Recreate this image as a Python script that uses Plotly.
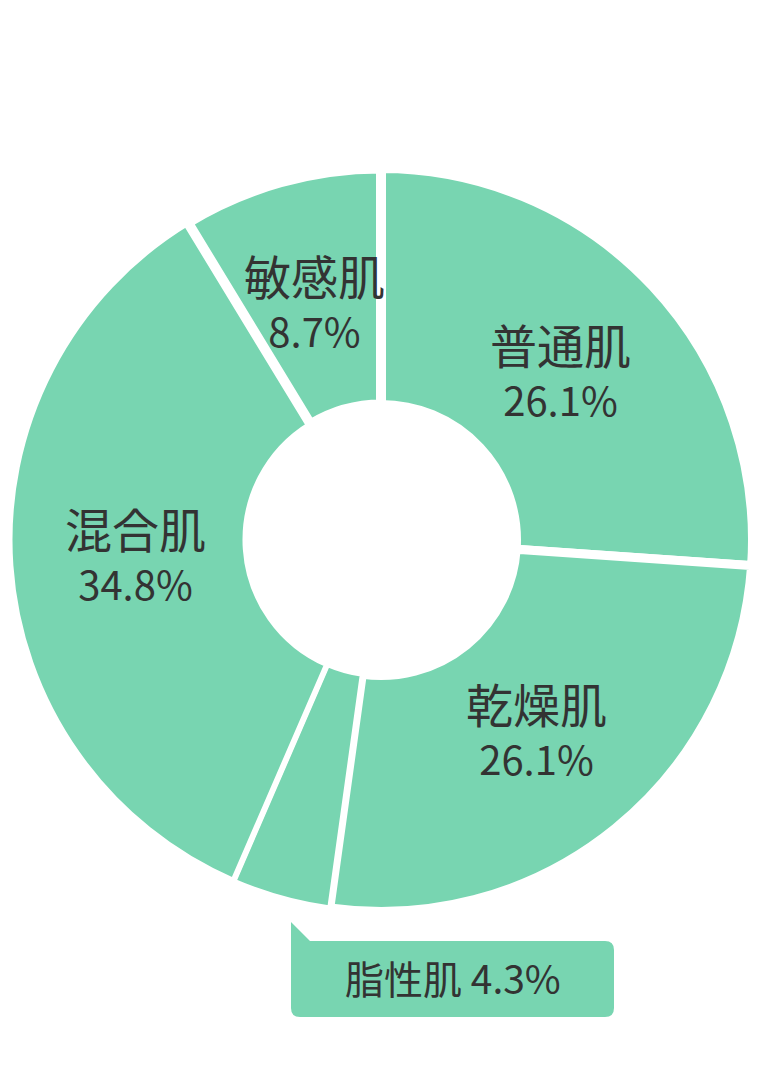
import math
import plotly.graph_objects as go

# ---- data ----
labels = ["普通肌", "乾燥肌", "脂性肌", "混合肌", "敏感肌"]
values = [26.1, 26.1, 4.3, 34.8, 8.7]
pct_text = ["26.1%", "26.1%", "4.3%", "34.8%", "8.7%"]
gap_widths = [9, 9, 5, 6, 10]

# page body has an 8px default margin; figure sized to fit the 758x1086 window
OFF = 8
W, H = 758 - OFF, 1086 - 2 * OFF
CX, CY = 381 - OFF, 540 - OFF     # pie centre (figure px from top-left)
R_VIS = 367
R_IN_VIS = 140
LW = 9
R = R_VIS + LW / 2
hole = (R_IN_VIS - LW / 2) / R

FILL = "#78D5B1"
TXT = "#333333"
FONT = "Noto Sans CJK JP"

fig = go.Figure(go.Pie(
    labels=labels, values=values, sort=False, direction="clockwise", rotation=0,
    hole=hole, textinfo="none", hoverinfo="skip", showlegend=False,
    marker=dict(colors=[FILL] * len(values), line=dict(color="white", width=gap_widths)),
    domain=dict(x=[max(0, (CX - R) / W), min(1, (CX + R) / W)],
                y=[(H - CY - R) / H, (H - CY + R) / H]),
))

def px2paper(x, y):
    return x / W, 1 - y / H

annotations = []
total = sum(values)
cum = 0.0
R_LAB = 246
for name, v, pt in zip(labels, values, pct_text):
    mid = (cum + v / 2) / total * 2 * math.pi
    cum += v
    if v / total < 0.05:
        continue
    lx = CX + R_LAB * math.sin(mid)
    ly = CY - R_LAB * math.cos(mid)
    ax, ay = px2paper(lx, ly - 4)
    annotations.append(dict(x=ax, y=ay, xref="paper", yref="paper",
                            text=f"<span style='font-size:47px'>{name}</span><br>{pt}",
                            showarrow=False, align="center",
                            font=dict(family=FONT, size=40, color=TXT),
                            xanchor="center", yanchor="middle"))

# callout for the small slice
small = [i for i, v in enumerate(values) if v / total < 0.05][0]
bx0, by0, bx1, by1 = 291 - OFF, 941 - OFF, 614 - OFF, 1017 - OFF
tip_y = 922 - OFF
rr = 9
def P(x, y):
    px, py = px2paper(x, y)
    return f"{px:.5f},{py:.5f}"
path = (f"M {P(bx0, tip_y)} L {P(bx0 + 19, by0)} L {P(bx1 - rr, by0)} "
        f"Q {P(bx1, by0)} {P(bx1, by0 + rr)} L {P(bx1, by1 - rr)} "
        f"Q {P(bx1, by1)} {P(bx1 - rr, by1)} L {P(bx0 + rr, by1)} "
        f"Q {P(bx0, by1)} {P(bx0, by1 - rr)} Z")
shapes = [dict(type="path", xref="paper", yref="paper", path=path, fillcolor=FILL, line=dict(width=0))]
cx_, cy_ = px2paper((bx0 + bx1) / 2, (by0 + by1) / 2 - 2)
annotations.append(dict(x=cx_, y=cy_, xref="paper", yref="paper",
                        text=f"{labels[small]} {pct_text[small]}", showarrow=False,
                        font=dict(family=FONT, size=39, color=TXT), xanchor="center", yanchor="middle"))

fig.update_layout(width=W, height=H, margin=dict(l=0, r=0, t=0, b=0),
                  paper_bgcolor="white", plot_bgcolor="white",
                  annotations=annotations, shapes=shapes)
fig.write_html("out.html")
